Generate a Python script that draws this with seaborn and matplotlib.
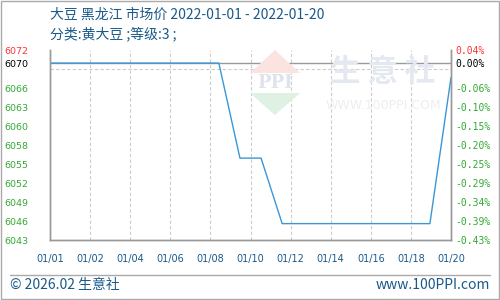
import numpy as np
import pandas as pd
import matplotlib
matplotlib.use("Agg")
import matplotlib.pyplot as plt
from matplotlib.patches import Polygon, Rectangle
import seaborn as sns

# ---- data ----
dates = ["01/01", "01/02", "01/03", "01/04", "01/05", "01/06", "01/07", "01/08", "01/09", "01/10",
         "01/11", "01/12", "01/13", "01/14", "01/15", "01/16", "01/17", "01/18", "01/19", "01/20"]
prices = [6070, 6070, 6070, 6070, 6070, 6070, 6070, 6070, 6070, 6055.5,
          6055.5, 6045.5, 6045.5, 6045.5, 6045.5, 6045.5, 6045.5, 6045.5, 6045.5, 6067.8]
x_tick_labels = ["01/01", "01/02", "01/04", "01/06", "01/08", "01/10",
                 "01/12", "01/14", "01/16", "01/18", "01/20"]
y_tick_values = [6072, 6070, 6066.2, 6063.3, 6060.4, 6057.5, 6054.6, 6051.7, 6048.8, 6045.9, 6043]
y_tick_labels = ["6072", "6070", "6066", "6063", "6060", "6058", "6055", "6052", "6049", "6046", "6043"]
pct_labels = ["0.04%", "0.00%", "-0.06%", "-0.10%", "-0.15%", "-0.20%", "-0.25%", "-0.29%",
              "-0.34%", "-0.39%", "-0.43%"]
title_line1 = "大豆 黑龙江 市场价 2022-01-01 - 2022-01-20"
title_line2 = "分类:黄大豆 ;等级:3 ;"
footer_left = "© 2026.02 生意社"
footer_right = "www.100PPI.com"

sns.set_theme(style="white")
plt.rcParams["font.family"] = ["Noto Sans CJK SC", "DejaVu Sans"]
plt.rcParams["axes.unicode_minus"] = False

df = pd.DataFrame({"idx": np.arange(len(dates)), "price": prices, "date": dates})

fig = plt.figure(figsize=(5, 3), dpi=100)
ax = fig.add_axes([0.1, 0.2, 0.802, 0.6333])

ymin, ymax = 6043, 6072
ax.set_ylim(ymin, ymax)
ax.set_xlim(0, len(dates) - 1)

# grid (minor ticks, evenly spaced)
ax.set_yticks(np.linspace(ymin, ymax, 11), minor=True)
ax.grid(False)
ax.yaxis.grid(True, which="minor", linestyle=(0, (3, 2)), color="#cccccc", linewidth=0.8)
xt = np.linspace(0, len(dates) - 1, len(x_tick_labels))
ax.set_xticks(xt)
ax.set_xticklabels(x_tick_labels, fontsize=7, color="#1a5a8a", family="DejaVu Sans")
ax.xaxis.grid(True, which="major", linestyle=(0, (3, 2)), color="#cccccc", linewidth=0.8)

# baseline
ax.axhline(prices[0], color="#999999", linewidth=1.0, zorder=2)

# watermark
wm = dict(transform=fig.transFigure, zorder=0)
fig.patches.append(Polygon([[275/500, 1-50/300], [250/500, 1-73/300], [300/500, 1-73/300]],
                           closed=True, facecolor="#fbe3e2", edgecolor="none", **wm))
fig.patches.append(Polygon([[250/500, 1-93/300], [300/500, 1-93/300], [275/500, 1-115/300]],
                           closed=True, facecolor="#dff1e2", edgecolor="none", **wm))
fig.text(275/500, 1-83/300, "PPI", ha="center", va="center", fontsize=13, color="#dfe3ee",
         family="DejaVu Serif", fontweight="bold", zorder=0)
fig.text(383/500, 1-72/300, "生 意 社", ha="center", va="center", fontsize=22, color="#e4e8f0",
         fontweight="bold", zorder=0)
fig.text(383/500, 1-106/300, "WWW.100PPI.COM", ha="center", va="center", fontsize=9, color="#eeeeee",
         family="DejaVu Sans", zorder=0)
ax.set_facecolor("none")

sns.lineplot(data=df, x="idx", y="price", ax=ax, color="#3a96d6", linewidth=1.0, zorder=3)
ax.set_xlabel("")
ax.set_ylabel("")

ax.set_yticks(y_tick_values)
ax.set_yticklabels(y_tick_labels, fontsize=6.8, family="DejaVu Sans")
for i, t in enumerate(ax.get_yticklabels()):
    t.set_color("#ff3333" if i == 0 else ("#000000" if i == 1 else "#33aa33"))
ax.tick_params(axis="y", which="both", length=0, pad=15.5)
ax.tick_params(axis="x", which="both", length=0, pad=10)

ax2 = ax.twinx()
ax2.set_ylim(ymin, ymax)
ax2.set_yticks(y_tick_values)
ax2.set_yticklabels(pct_labels, fontsize=7, family="DejaVu Sans Mono")
for i, t in enumerate(ax2.get_yticklabels()):
    t.set_color("#ff3333" if i == 0 else ("#000000" if i == 1 else "#33aa33"))
ax2.tick_params(axis="y", length=0, pad=3)
ax2.grid(False)

for a in (ax, ax2):
    for s in ("left", "right", "bottom"):
        a.spines[s].set_color("#999999")
        a.spines[s].set_linewidth(1.0)
    a.spines["top"].set_visible(False)

# titles
fig.text(50/500, 1-15/300, title_line1, ha="left", va="center", fontsize=10, color="#1a5a8a")
fig.text(50/500, 1-34/300, title_line2, ha="left", va="center", fontsize=10, color="#1a5a8a")

# footer
fig.lines.append(plt.Line2D([10/500, 490/500], [1-275/300, 1-275/300], transform=fig.transFigure,
                            color="#aaaaaa", linewidth=1))
fig.text(10/500, 1-285/300, footer_left, ha="left", va="center", fontsize=10, color="#1a5a8a")
fig.text(490/500, 1-285/300, footer_right, ha="right", va="center", fontsize=10, color="#1a5a8a")

# outer border
fig.patches.append(Rectangle((0.001, 0.002), 0.997, 0.995, transform=fig.transFigure, fill=False,
                             edgecolor="#aaaaaa", linewidth=1))

fig.savefig("out.png", dpi=100)
